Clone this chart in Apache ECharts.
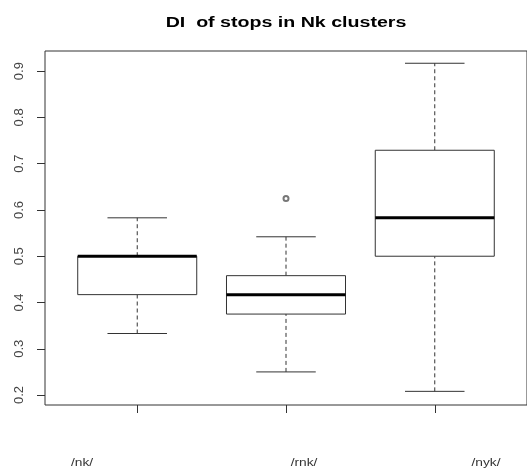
<!DOCTYPE html>
<html>
<head>
<meta charset="utf-8">
<script src="https://cdn.jsdelivr.net/npm/echarts@6/dist/echarts.min.js"></script>
<style>
  html, body { margin: 0; padding: 0; background: #fff; }
  #chart { width: 527px; height: 469px; }
</style>
</head>
<body>
<div id="chart"></div>
<script>
const categories = ['/nk/', '/rnk/', '/nyk/'];
const lowWhisker = [0.333, 0.25, 0.208];
const lowerQuartile = [0.417, 0.375, 0.5];
const median = [0.5, 0.417, 0.583];
const upperQuartile = [0.5, 0.458, 0.729];
const highWhisker = [0.583, 0.542, 0.917];
const outliers = [[2, 0.625]];
const yTicks = [0.2, 0.3, 0.4, 0.5, 0.6, 0.7, 0.8, 0.9];

// the group names sit under the plot, not under the ticks
const labelX = [82, 304, 486];

let chart = echarts.init(document.getElementById('chart'));

const boxData = categories.map((c, i) => [
    i + 1, lowWhisker[i], lowerQuartile[i], median[i], upperQuartile[i], highWhisker[i]
]);

function renderBox(params, api) {
    const x = api.value(0);
    const lo = api.coord([x, api.value(1)]);
    const q1 = api.coord([x, api.value(2)]);
    const md = api.coord([x, api.value(3)]);
    const q3 = api.coord([x, api.value(4)]);
    const hi = api.coord([x, api.value(5)]);
    const bl = api.coord([x - 0.4, 0])[0];
    const br = api.coord([x + 0.4, 0])[0];
    const cl = api.coord([x - 0.2, 0])[0];
    const cr = api.coord([x + 0.2, 0])[0];
    const line = { stroke: '#333', lineWidth: 1 };
    const dash = { stroke: '#333', lineWidth: 1, lineDash: [4, 3] };
    return {
        type: 'group',
        children: [
            { type: 'line', shape: { x1: lo[0], y1: lo[1], x2: q1[0], y2: q1[1] }, style: dash },
            { type: 'line', shape: { x1: q3[0], y1: q3[1], x2: hi[0], y2: hi[1] }, style: dash },
            { type: 'line', shape: { x1: cl, y1: lo[1], x2: cr, y2: lo[1] }, style: line },
            { type: 'line', shape: { x1: cl, y1: hi[1], x2: cr, y2: hi[1] }, style: line },
            { type: 'rect', shape: { x: bl, y: q3[1], width: br - bl, height: q1[1] - q3[1] },
              style: { fill: '#fff', stroke: '#333', lineWidth: 1 } },
            { type: 'line', shape: { x1: bl, y1: md[1], x2: br, y2: md[1] },
              style: { stroke: '#000', lineWidth: 3 } }
        ]
    };
}

const option = {
    animation: false,
    backgroundColor: '#fff',
    grid: {
        left: 45,
        right: -3,
        top: 51,
        bottom: 64,
        show: true,
        borderColor: '#333',
        borderWidth: 1,
        backgroundColor: 'transparent'
    },
    xAxis: {
        type: 'value',
        min: 0.38,
        max: 3.62,
        axisLine: { show: false },
        splitLine: { show: false },
        axisTick: { show: true, length: 8, customValues: [1, 2, 3], lineStyle: { color: '#333' } },
        axisLabel: { show: false }
    },
    yAxis: {
        type: 'value',
        min: 0.1785,
        max: 0.9435,
        axisLine: { show: false },
        splitLine: { show: false },
        axisTick: { show: true, length: 8, customValues: yTicks, lineStyle: { color: '#333' } },
        axisLabel: {
            customValues: yTicks,
            rotate: 90,
            margin: 19,
            fontFamily: 'Liberation Sans',
            fontSize: 13,
            color: '#444',
            formatter: v => v.toFixed(1)
        }
    },
    graphic: [
        {
            type: 'text',
            x: 286,
            y: 16,
            scaleX: 1.4,
            style: {
                text: 'DI  of stops in Nk clusters',
                textAlign: 'center',
                textVerticalAlign: 'top',
                font: 'bold 14px "Liberation Sans"',
                fill: '#000'
            }
        }
    ].concat(categories.map((c, i) => ({
        type: 'text',
        x: labelX[i],
        y: 457,
        scaleX: 1.25,
        style: {
            text: c,
            textAlign: 'center',
            textVerticalAlign: 'top',
            font: '11px "Liberation Sans"',
            fill: '#333'
        }
    }))),
    series: [
        {
            type: 'custom',
            renderItem: renderBox,
            data: boxData,
            encode: { x: 0, y: [1, 2, 3, 4, 5] }
        },
        {
            type: 'scatter',
            data: outliers,
            symbol: 'emptyCircle',
            symbolSize: 5,
            itemStyle: { color: '#555', borderWidth: 0.8 }
        }
    ]
};

option && chart.setOption(option);
window.addEventListener('resize', chart.resize);
</script>
</body>
</html>
